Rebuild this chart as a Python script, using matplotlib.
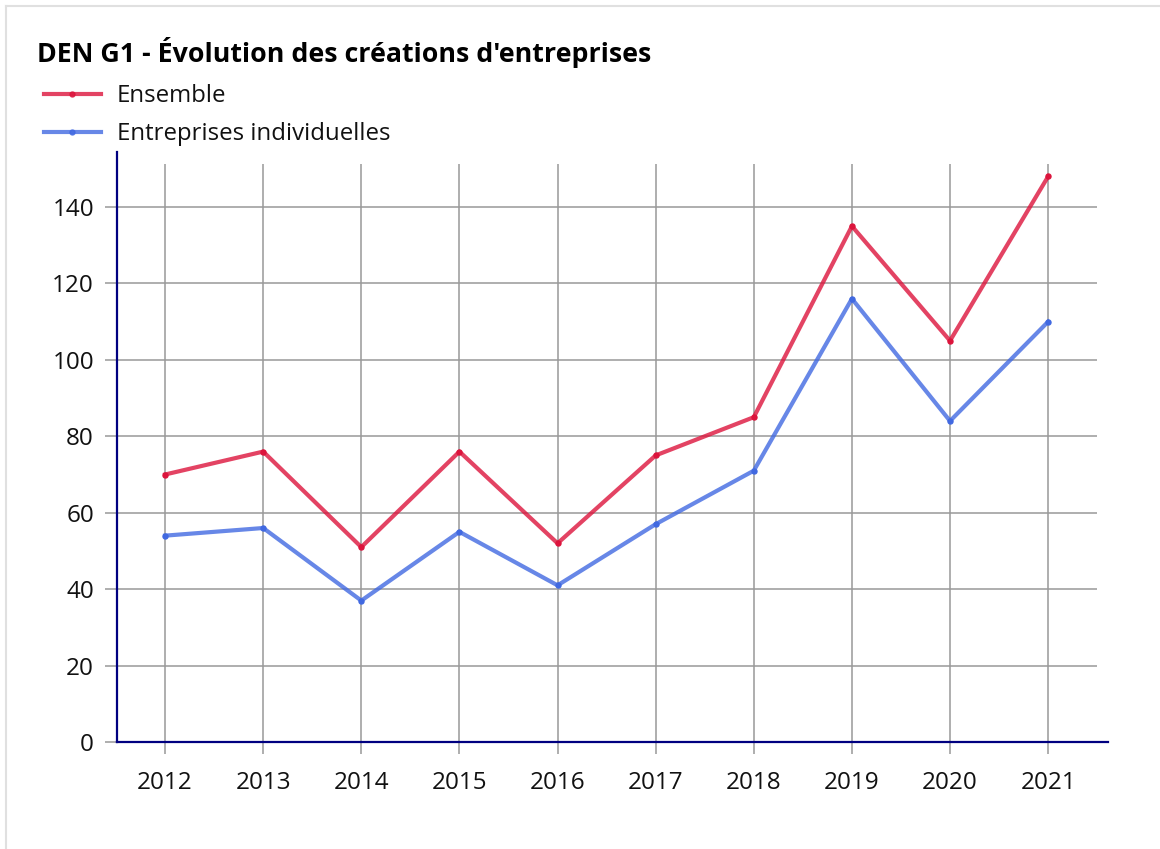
import matplotlib.pyplot as plt
from matplotlib.lines import Line2D

plt.rcParams["font.family"] = ["Open Sans", "DejaVu Sans"]

years = [2012, 2013, 2014, 2015, 2016, 2017, 2018, 2019, 2020, 2021]
ensemble = [70, 76, 51, 76, 52, 75, 85, 135, 105, 148]
individuelles = [54, 56, 37, 55, 41, 57, 71, 116, 84, 110]
y_ticks = [0, 20, 40, 60, 80, 100, 120, 140]

title = "DEN G1 - Évolution des créations d'entreprises"
label_ensemble = "Ensemble"
label_indiv = "Entreprises individuelles"

red = "#dc143c"
blue = "#4169e1"
grid_color = "#999999"
axis_color = "#000080"

fig = plt.figure(figsize=(11.6, 8.49), dpi=100)
ax = fig.add_axes([117 / 1160, 1 - 742 / 849, 991 / 1160, 590 / 849])

# grid drawn by hand so it can stop short of the axis ends
ax.vlines(years, 0, 0.98, transform=ax.get_xaxis_transform(),
          color=grid_color, linewidth=1.1, zorder=1)
ax.hlines(y_ticks, 0, 0.989, transform=ax.get_yaxis_transform(),
          color=grid_color, linewidth=1.1, zorder=1)

ax.plot(years, ensemble, color=red, alpha=0.8, linewidth=3.0, zorder=3)
ax.plot(years, ensemble, color=red, linestyle="none", marker="o",
        markersize=3.6, zorder=4)
ax.plot(years, individuelles, color=blue, alpha=0.8, linewidth=3.0, zorder=3)
ax.plot(years, individuelles, color=blue, linestyle="none", marker="o",
        markersize=3.6, zorder=4)

ax.set_xlim(2011.51, 2021.61)
ax.set_ylim(0, 154.4)
ax.set_xticks(years)
ax.set_yticks(y_ticks)

for side in ["top", "right"]:
    ax.spines[side].set_visible(False)
for side in ["left", "bottom"]:
    ax.spines[side].set_color(axis_color)
    ax.spines[side].set_linewidth(1.6)
    ax.spines[side].set_zorder(5)

ax.tick_params(axis="both", length=8.6, width=1.1, color=grid_color,
               labelsize=17.5, labelcolor="#111111")
ax.tick_params(axis="x", pad=12)
ax.tick_params(axis="y", pad=8)

fig.text(37 / 1160, 1 - 52 / 849, title, fontsize=19.3, fontweight="bold",
         va="center", ha="left", color="#000000")

handles = [
    Line2D([], [], color=red, linewidth=3.0, alpha=0.8, marker="o",
           markersize=3.6, markerfacecolor=red, markeredgecolor=red,
           markevery=[1]),
    Line2D([], [], color=blue, linewidth=3.0, alpha=0.8, marker="o",
           markersize=3.6, markerfacecolor=blue, markeredgecolor=blue,
           markevery=[1]),
]
fig.legend(handles, [label_ensemble, label_indiv],
           loc="upper left", bbox_to_anchor=(44 / 1160, 1 - 84.5 / 849),
           frameon=False, fontsize=17.3, handlelength=2.37, handletextpad=0.67,
           labelspacing=0.57, borderaxespad=0, borderpad=0,
           labelcolor="#111111")

# light frame on top and left edges
fig.add_artist(Line2D([6 / 1160, 6 / 1160], [0, 1 - 6 / 849],
                      transform=fig.transFigure, color="#e0e0e0", linewidth=1.5))
fig.add_artist(Line2D([6 / 1160, 1], [1 - 6 / 849, 1 - 6 / 849],
                      transform=fig.transFigure, color="#e0e0e0", linewidth=1.5))

fig.savefig("out.png", dpi=100)
